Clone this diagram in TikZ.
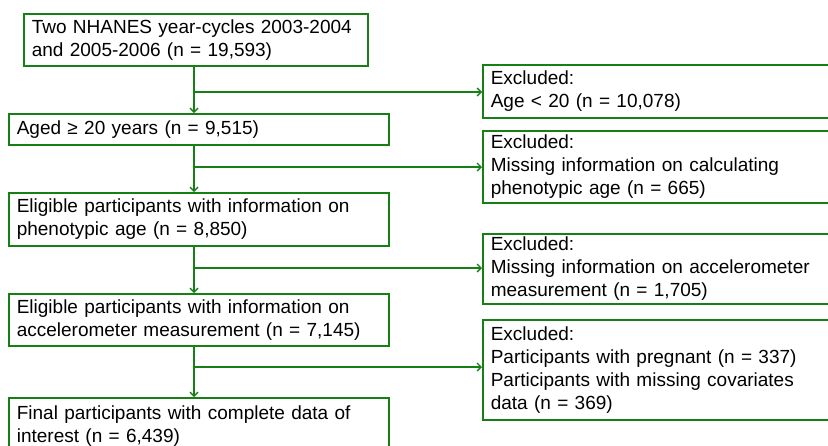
\documentclass[tikz,border=0pt]{standalone}
\usepackage{fontspec}
\setmainfont{Liberation Sans}
\usetikzlibrary{arrows.meta}
\definecolor{fgreen}{RGB}{22,128,22}
\begin{document}
\begin{tikzpicture}[x=1pt,y=-1pt,
  box/.style={draw=fgreen, text=black, line width=1.6pt, anchor=north west, rectangle,
    inner xsep=8pt, inner ysep=0pt, align=left,
    font=\fontsize{19}{23}\selectfont},
  arr/.style={draw=fgreen, line width=1.5pt, -{Straight Barb[length=4pt,width=8pt,line width=1.3pt]}}]
\useasboundingbox (0,0) rectangle (828,445);
% main boxes
\node[box, minimum width=344pt, minimum height=52pt, text width=328pt] (b1) at (23,13)
  {Two NHANES year-cycles 2003-2004\\and 2005-2006 (n = 19,593)};
\node[box, minimum width=380pt, minimum height=31pt, text width=364pt] (b2) at (8,113)
  {Aged ≥ 20 years (n = 9,515)};
\node[box, minimum width=380pt, minimum height=53pt, text width=364pt] (b3) at (8,192)
  {Eligible participants with information on\\phenotypic age (n = 8,850)};
\node[box, minimum width=380pt, minimum height=52pt, text width=364pt] (b4) at (8,293)
  {Eligible participants with information on\\accelerometer measurement (n = 7,145)};
\node[box, minimum width=380pt, minimum height=56pt, text width=364pt] (b5) at (8,397)
  {Final participants with complete data of\\interest (n = 6,439)};
% excluded boxes
\node[box, minimum width=360pt, minimum height=53pt, text width=344pt] (e1) at (482,64)
  {Excluded:\\Age < 20 (n = 10,078)};
\node[box, minimum width=360pt, minimum height=72pt, text width=344pt] (e2) at (482,130)
  {Excluded:\\Missing information on calculating\\phenotypic age (n = 665)};
\node[box, minimum width=360pt, minimum height=70pt, text width=344pt] (e3) at (482,233)
  {Excluded:\\Missing information on accelerometer\\measurement (n = 1,705)};
\node[box, minimum width=360pt, minimum height=100pt, text width=344pt] (e4) at (482,319)
  {Excluded:\\Participants with pregnant (n = 337)\\Participants with missing covariates\\data (n = 369)};
% vertical flow
\coordinate (x0) at (194,0);
\draw[arr] (x0 |- b1.south) -- (x0 |- b2.north);
\draw[arr] (x0 |- b2.south) -- (x0 |- b3.north);
\draw[arr] (x0 |- b3.south) -- (x0 |- b4.north);
\draw[arr] (x0 |- b4.south) -- (x0 |- b5.north);
% branches
\coordinate (c1) at (194,92);
\coordinate (c2) at (194,167);
\coordinate (c3) at (194,268);
\coordinate (c4) at (194,367);
\draw[arr] (c1) -- (c1 -| e1.west);
\draw[arr] (c2) -- (c2 -| e2.west);
\draw[arr] (c3) -- (c3 -| e3.west);
\draw[arr] (c4) -- (c4 -| e4.west);
\end{tikzpicture}
\end{document}
